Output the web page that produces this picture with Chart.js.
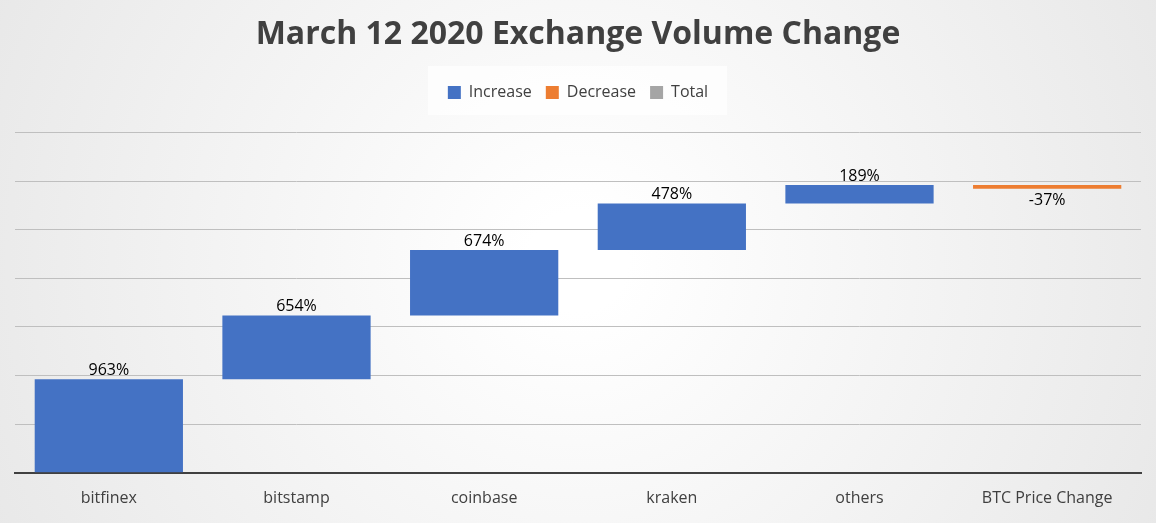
<!DOCTYPE html>
<html>
<head>
<meta charset="utf-8">
<script src="https://cdn.jsdelivr.net/npm/chart.js@4.4.0/dist/chart.umd.min.js"></script>
<style>
html,body{margin:0;padding:0;}
#wrap{width:1156px;height:523px;}
</style>
</head>
<body>
<div id="wrap"><canvas id="chart" width="1156" height="523"></canvas></div>
<script>
const categories=['bitfinex','bitstamp','coinbase','kraken','others','BTC Price Change'];
const changes=[963,654,674,478,189,-37];
const yTicks=[0,500,1000,1500,2000,2500,3000,3500];

// build floating bars from the running total
let run=0;
const incData=[],decData=[],labels=[];
changes.forEach(v=>{
  const start=run; run+=v;
  if(v>=0){incData.push([start,run]);decData.push(null);}
  else{incData.push(null);decData.push([start,run]);}
  labels.push(v+'%');
});

const bgPlugin={
  id:'bg',
  beforeDraw(c){
    const ctx=c.ctx,w=c.width,h=c.height;
    const g=ctx.createRadialGradient(w/2,h/2,50,w/2,h/2,w*0.65);
    g.addColorStop(0,'#ffffff');g.addColorStop(1,'#e4e4e4');
    ctx.save();ctx.fillStyle=g;ctx.fillRect(0,0,w,h);
    ctx.fillStyle='rgba(255,255,255,0.7)';ctx.fillRect(428,66,299,49);
    ctx.restore();
  }
};

// extra room under the legend
const legendGap={
  id:'legendGap',
  beforeInit(c){
    const fit=c.legend.fit;
    c.legend.fit=function(){fit.bind(c.legend)();this.height+=22;};
  }
};

const labelPlugin={
  id:'vals',
  afterDatasetsDraw(c){
    const ctx=c.ctx;
    ctx.save();ctx.font='16px "Open Sans", sans-serif';ctx.fillStyle='#000';ctx.textAlign='center';
    changes.forEach((v,i)=>{
      const ds=v>=0?0:1;
      const el=c.getDatasetMeta(ds).data[i];
      const top=Math.min(el.y,el.base),bot=Math.max(el.y,el.base);
      if(v>=0){ctx.textBaseline='bottom';ctx.fillText(labels[i],el.x,top-1);}
      else{ctx.textBaseline='top';ctx.fillText(labels[i],el.x,bot+4);}
    });
    ctx.restore();
  }
};

new Chart(document.querySelector('#chart').getContext('2d'),{
  type:'bar',
  data:{
    labels:categories,
    datasets:[
      {label:'Increase',data:incData,backgroundColor:'#4472C4',grouped:false,barPercentage:0.79,categoryPercentage:1},
      {label:'Decrease',data:decData,backgroundColor:'#ED7D31',grouped:false,barPercentage:0.79,categoryPercentage:1},
      {label:'Total',data:[],backgroundColor:'#A5A5A5',grouped:false}
    ]
  },
  options:{
    responsive:false,animation:false,
    layout:{padding:{left:15,right:15,top:0,bottom:7}},
    plugins:{
      title:{display:true,text:'March 12 2020 Exchange Volume Change',color:'#404040',
        font:{family:'"Open Sans", sans-serif',size:32,weight:'bold'},padding:{top:16,bottom:16}},
      legend:{labels:{boxWidth:13,boxHeight:13,color:'#404040',font:{family:'"Open Sans", sans-serif',size:16},padding:14},
        padding:0},
      tooltip:{enabled:false}
    },
    scales:{
      x:{grid:{display:false},border:{color:'#404040',width:2},
        ticks:{color:'#404040',font:{family:'"Open Sans", sans-serif',size:16},padding:8}},
      y:{min:0,max:3500,afterBuildTicks(s){s.ticks=yTicks.map(v=>({value:v}));},
        ticks:{display:false},border:{display:false},grid:{color:'#bfbfbf',drawTicks:false}}
    }
  },
  plugins:[bgPlugin,legendGap,labelPlugin]
});
</script>
</body>
</html>
